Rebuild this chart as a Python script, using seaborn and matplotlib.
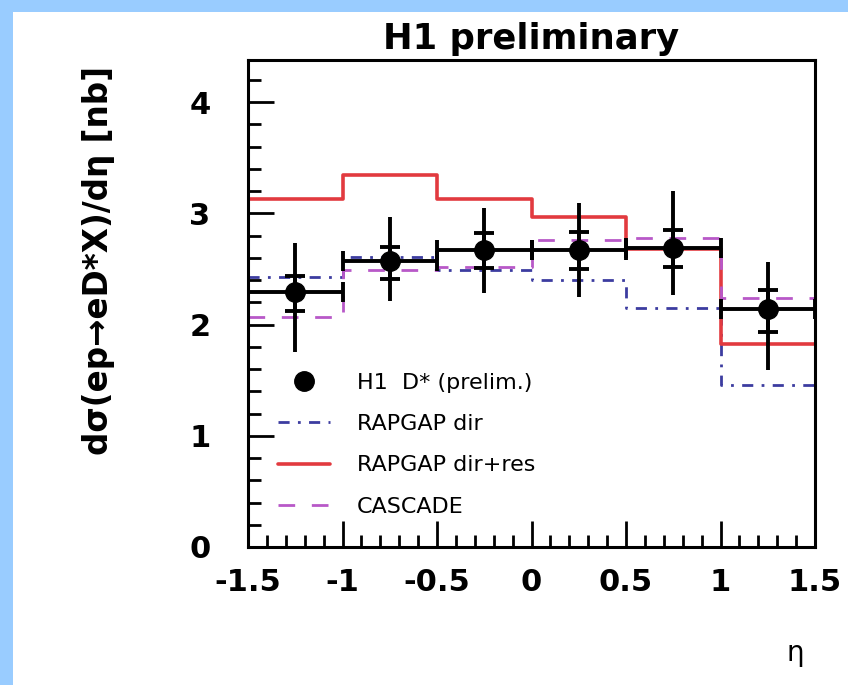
import numpy as np
import pandas as pd
import matplotlib
matplotlib.use("Agg")
import matplotlib.pyplot as plt
import seaborn as sns
from matplotlib.lines import Line2D
from matplotlib.patches import Rectangle
from matplotlib.ticker import MultipleLocator, FuncFormatter

# ---------------------------
# Data (read off the H1 D* eta plot)
# ---------------------------
bin_edges = [-1.5, -1.0, -0.5, 0.0, 0.5, 1.0, 1.5]
eta = [-1.25, -0.75, -0.25, 0.25, 0.75, 1.25]
h1_dsig = [2.29, 2.57, 2.67, 2.67, 2.69, 2.14]
stat_up = [0.15, 0.13, 0.15, 0.16, 0.16, 0.17]
stat_dn = [0.17, 0.16, 0.16, 0.17, 0.17, 0.21]
tot_up = [0.44, 0.40, 0.38, 0.42, 0.51, 0.42]
tot_dn = [0.54, 0.36, 0.39, 0.42, 0.42, 0.55]

rapgap_dir = [2.43, 2.61, 2.49, 2.40, 2.15, 1.46]
rapgap_dirres = [3.13, 3.35, 3.13, 2.97, 2.68, 1.83]
cascade = [2.07, 2.49, 2.52, 2.76, 2.78, 2.24]

labels = ["H1  D* (prelim.)", "RAPGAP dir", "RAPGAP dir+res", "CASCADE"]

BLUE = "#3c3ca0"
RED = "#e23a3f"
MAGENTA = "#b858c8"

# ---------------------------
# Style
# ---------------------------
sns.set_style("ticks")
plt.rcParams["font.family"] = ["DejaVu Sans"]
plt.rcParams["font.weight"] = "bold"
plt.rcParams["axes.unicode_minus"] = False
for key in ["text.color", "axes.labelcolor", "xtick.color", "ytick.color", "axes.edgecolor"]:
    plt.rcParams[key] = "black"

fig = plt.figure(figsize=(8.48, 6.85), dpi=100, facecolor="#99ccff")
fig.patches.append(Rectangle((13 / 848, 0), 1, 1 - 12 / 685, transform=fig.transFigure,
                             facecolor="white", edgecolor="none", zorder=-10))
ax = fig.add_axes([0.2925, 0.2015, 0.6686, 0.7109])
ax.set_facecolor("white")

# model histograms as steps
def step_frame(vals):
    return pd.DataFrame({"eta": bin_edges, "val": list(vals) + [vals[-1]]})

sns.lineplot(data=step_frame(rapgap_dir), x="eta", y="val", drawstyle="steps-post",
             color=BLUE, lw=2, linestyle=(0, (4, 3, 1, 3)), errorbar=None, ax=ax)
sns.lineplot(data=step_frame(rapgap_dirres), x="eta", y="val", drawstyle="steps-post",
             color=RED, lw=2.6, errorbar=None, ax=ax)
sns.lineplot(data=step_frame(cascade), x="eta", y="val", drawstyle="steps-post",
             color=MAGENTA, lw=2, linestyle=(0, (6, 6)), errorbar=None, ax=ax)

# data points: total error (no caps), stat error + bin width (caps)
half_w = np.diff(bin_edges) / 2
ax.errorbar(eta, h1_dsig, yerr=[tot_dn, tot_up], fmt="none", ecolor="black",
            elinewidth=2.8, capsize=0, zorder=5)
ax.errorbar(eta, h1_dsig, xerr=half_w, yerr=[stat_dn, stat_up], fmt="o", color="black",
            ms=14, elinewidth=2.8, capsize=7, capthick=2.8, zorder=6)

# axes
ax.set_xlim(-1.5, 1.5)
ax.set_ylim(0, 4.38)
ax.xaxis.set_major_locator(MultipleLocator(0.5))
ax.xaxis.set_minor_locator(MultipleLocator(0.1))
ax.yaxis.set_major_locator(MultipleLocator(1))
ax.yaxis.set_minor_locator(MultipleLocator(0.2))
fmt = FuncFormatter(lambda v, _: f"{v:g}")
ax.xaxis.set_major_formatter(fmt)
ax.yaxis.set_major_formatter(fmt)
ax.tick_params(which="both", direction="in", top=False, right=False, width=2, color="black")
ax.tick_params(which="major", length=18.5, labelsize=22)
ax.tick_params(which="minor", length=9)
ax.tick_params(axis="y", which="major", pad=27)
ax.tick_params(axis="x", which="major", pad=15)
for s in ax.spines.values():
    s.set_linewidth(2.2)
    s.set_color("black")

ax.set_title("H1 preliminary", fontsize=25.5, fontweight="bold", pad=8)
ax.set_ylabel("dσ(ep→eD*X)/dη [nb]", fontsize=23.5, fontweight="bold")
ax.yaxis.set_label_coords(-0.235, 0.589)
ax.set_xlabel("η", fontsize=20, fontweight="normal")
ax.xaxis.set_label_coords(0.965, -0.19)

# legend
handles = [
    Line2D([], [], marker="o", color="black", ls="none", ms=14),
    Line2D([], [], color=BLUE, lw=2, ls=(0, (4, 3, 1, 3))),
    Line2D([], [], color=RED, lw=2.6),
    Line2D([], [], color=MAGENTA, lw=2, ls=(0, (6, 6))),
]
ax.legend(handles, labels, loc="upper left", bbox_to_anchor=(0.053, 0.358), frameon=False,
          borderpad=0, borderaxespad=0, handlelength=2.35, handletextpad=1.2,
          labelspacing=0.96, prop={"size": 16, "weight": "normal"})

fig.savefig("out.png", dpi=100)
